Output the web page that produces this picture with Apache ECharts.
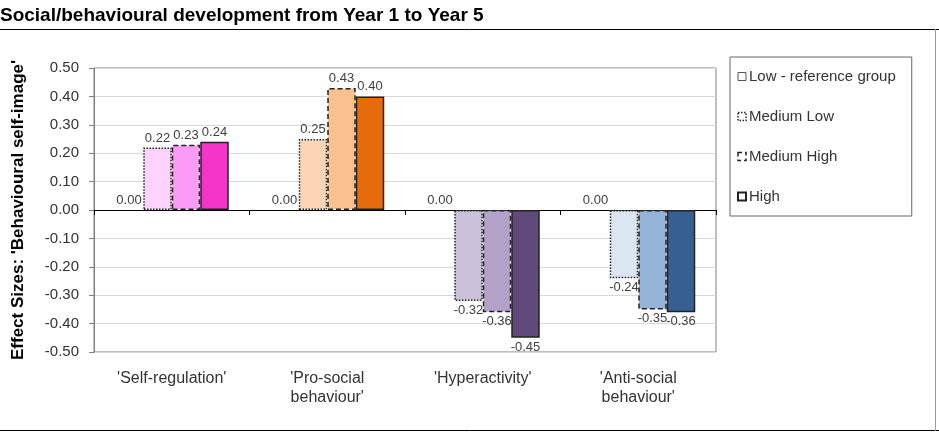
<!DOCTYPE html>
<html>
<head>
<meta charset="utf-8">
<title>Social/behavioural development</title>
<script src="https://cdn.jsdelivr.net/npm/echarts@6/dist/echarts.min.js"></script>
<style>
  html, body { margin: 0; padding: 0; background: #fff; }
  #main { width: 939px; height: 432px; }
</style>
</head>
<body>
<div id="main"></div>
<script>
var categories = ["'Self-regulation'", "'Pro-social\nbehaviour'", "'Hyperactivity'", "'Anti-social\nbehaviour'"];
var seriesNames = ['Low - reference group', 'Medium Low', 'Medium High', 'High'];

var lowValues = [0, 0, 0, 0];
var mediumLowValues = [0.22, 0.25, -0.32, -0.24];
var mediumHighValues = [0.23, 0.43, -0.36, -0.35];
var highValues = [0.24, 0.40, -0.45, -0.36];

// colours per category, for medium low / medium high / high
var mediumLowColors = ['#fdd2fc', '#fbd5b5', '#ccc1da', '#dce6f2'];
var mediumHighColors = ['#fa9cf7', '#fac090', '#b3a2c7', '#95b3d7'];
var highColors = ['#f535ca', '#e46c0a', '#604a7b', '#376092'];

var FONT = 'Liberation Sans, Arial, sans-serif';

function buildData(values, colors) {
  var out = [];
  for (var i = 0; i < values.length; i++) {
    var item = {
      value: values[i],
      label: { position: values[i] < 0 ? 'bottom' : 'top' }
    };
    if (colors) item.itemStyle = { color: colors[i] };
    out.push(item);
  }
  return out;
}

var labelStyle = {
  show: true,
  fontFamily: FONT,
  fontSize: 13,
  color: '#404040',
  distance: 3,
  formatter: function (p) { return p.value.toFixed(2); }
};

function makeSeries(name, values, colors, border) {
  return {
    name: name,
    type: 'bar',
    barWidth: 28.5,
    barGap: '0%',
    data: buildData(values, colors),
    label: labelStyle,
    itemStyle: border,
    emphasis: { disabled: true }
  };
}

var chart = echarts.init(document.getElementById('main'));
var option = {
  animation: false,
  title: {
    text: 'Social/behavioural development from Year 1 to Year 5',
    left: 0,
    top: 6,
    padding: 0,
    textStyle: { fontFamily: FONT, fontSize: 19, fontWeight: 'bold', color: '#000' }
  },
  grid: {
    left: 94, right: 223, top: 68, bottom: 80,
    show: true, borderColor: '#808080', borderWidth: 1
  },
  legend: {
    orient: 'vertical',
    left: 730,
    top: 57,
    padding: [12, 16, 12, 7],
    itemGap: 25,
    itemWidth: 8,
    itemHeight: 8,
    icon: 'rect',
    borderColor: '#666',
    borderWidth: 1,
    textStyle: { fontFamily: FONT, fontSize: 15, color: '#333', padding: [0, 0, 0, -2] },
    data: [
      { name: seriesNames[0], itemStyle: { color: '#fff', borderColor: '#555', borderWidth: 1 } },
      { name: seriesNames[1], itemStyle: { color: '#fff', borderColor: '#222', borderWidth: 1.5, borderType: [1.5, 1.5] } },
      { name: seriesNames[2], itemStyle: { color: '#fff', borderColor: '#222', borderWidth: 1.5, borderType: [4, 3] } },
      { name: seriesNames[3], itemStyle: { color: '#fff', borderColor: '#222', borderWidth: 2 } }
    ]
  },
  xAxis: [
    {
      type: 'category',
      data: categories,
      axisLine: { onZero: true, lineStyle: { color: '#000', width: 1 } },
      axisTick: { show: true, length: 5, lineStyle: { color: '#000' } },
      axisLabel: { show: false }
    },
    {
      type: 'category',
      data: categories,
      position: 'bottom',
      axisLine: { show: false, onZero: false },
      axisTick: { show: false },
      axisLabel: { fontFamily: FONT, fontSize: 16, color: '#333', margin: 17, lineHeight: 19 }
    }
  ],
  yAxis: {
    type: 'value',
    min: -0.5,
    max: 0.5,
    interval: 0.1,
    name: "Effect Sizes: 'Behavioural self-image'",
    nameLocation: 'middle',
    nameRotate: 90,
    nameGap: 67,
    nameTextStyle: { fontFamily: FONT, fontSize: 17, fontWeight: 'bold', color: '#000' },
    axisLine: { show: true, lineStyle: { color: '#808080' } },
    axisTick: { show: true, length: 5, lineStyle: { color: '#808080' } },
    axisLabel: {
      fontFamily: FONT, fontSize: 15, color: '#333', margin: 15,
      formatter: function (v) { return v.toFixed(2); }
    },
    splitLine: { lineStyle: { color: '#d9d9d9' } }
  },
  series: [
    makeSeries(seriesNames[0], lowValues, null, { color: 'transparent', borderWidth: 0 }),
    makeSeries(seriesNames[1], mediumLowValues, mediumLowColors, { borderColor: '#222', borderWidth: 1.5, borderType: [1.5, 1.5] }),
    makeSeries(seriesNames[2], mediumHighValues, mediumHighColors, { borderColor: '#222', borderWidth: 1.5, borderType: [5, 3] }),
    makeSeries(seriesNames[3], highValues, highColors, { borderColor: '#222', borderWidth: 1.5 })
  ],
  graphic: [
    { type: 'line', shape: { x1: 0, y1: 29.5, x2: 939, y2: 29.5 }, style: { stroke: '#000', lineWidth: 1 } },
    { type: 'line', shape: { x1: 0, y1: 430.5, x2: 939, y2: 430.5 }, style: { stroke: '#000', lineWidth: 1 } },
    { type: 'line', shape: { x1: 935.5, y1: 29, x2: 935.5, y2: 431 }, style: { stroke: '#999', lineWidth: 1 } }
  ]
};
chart.setOption(option);
</script>
</body>
</html>
